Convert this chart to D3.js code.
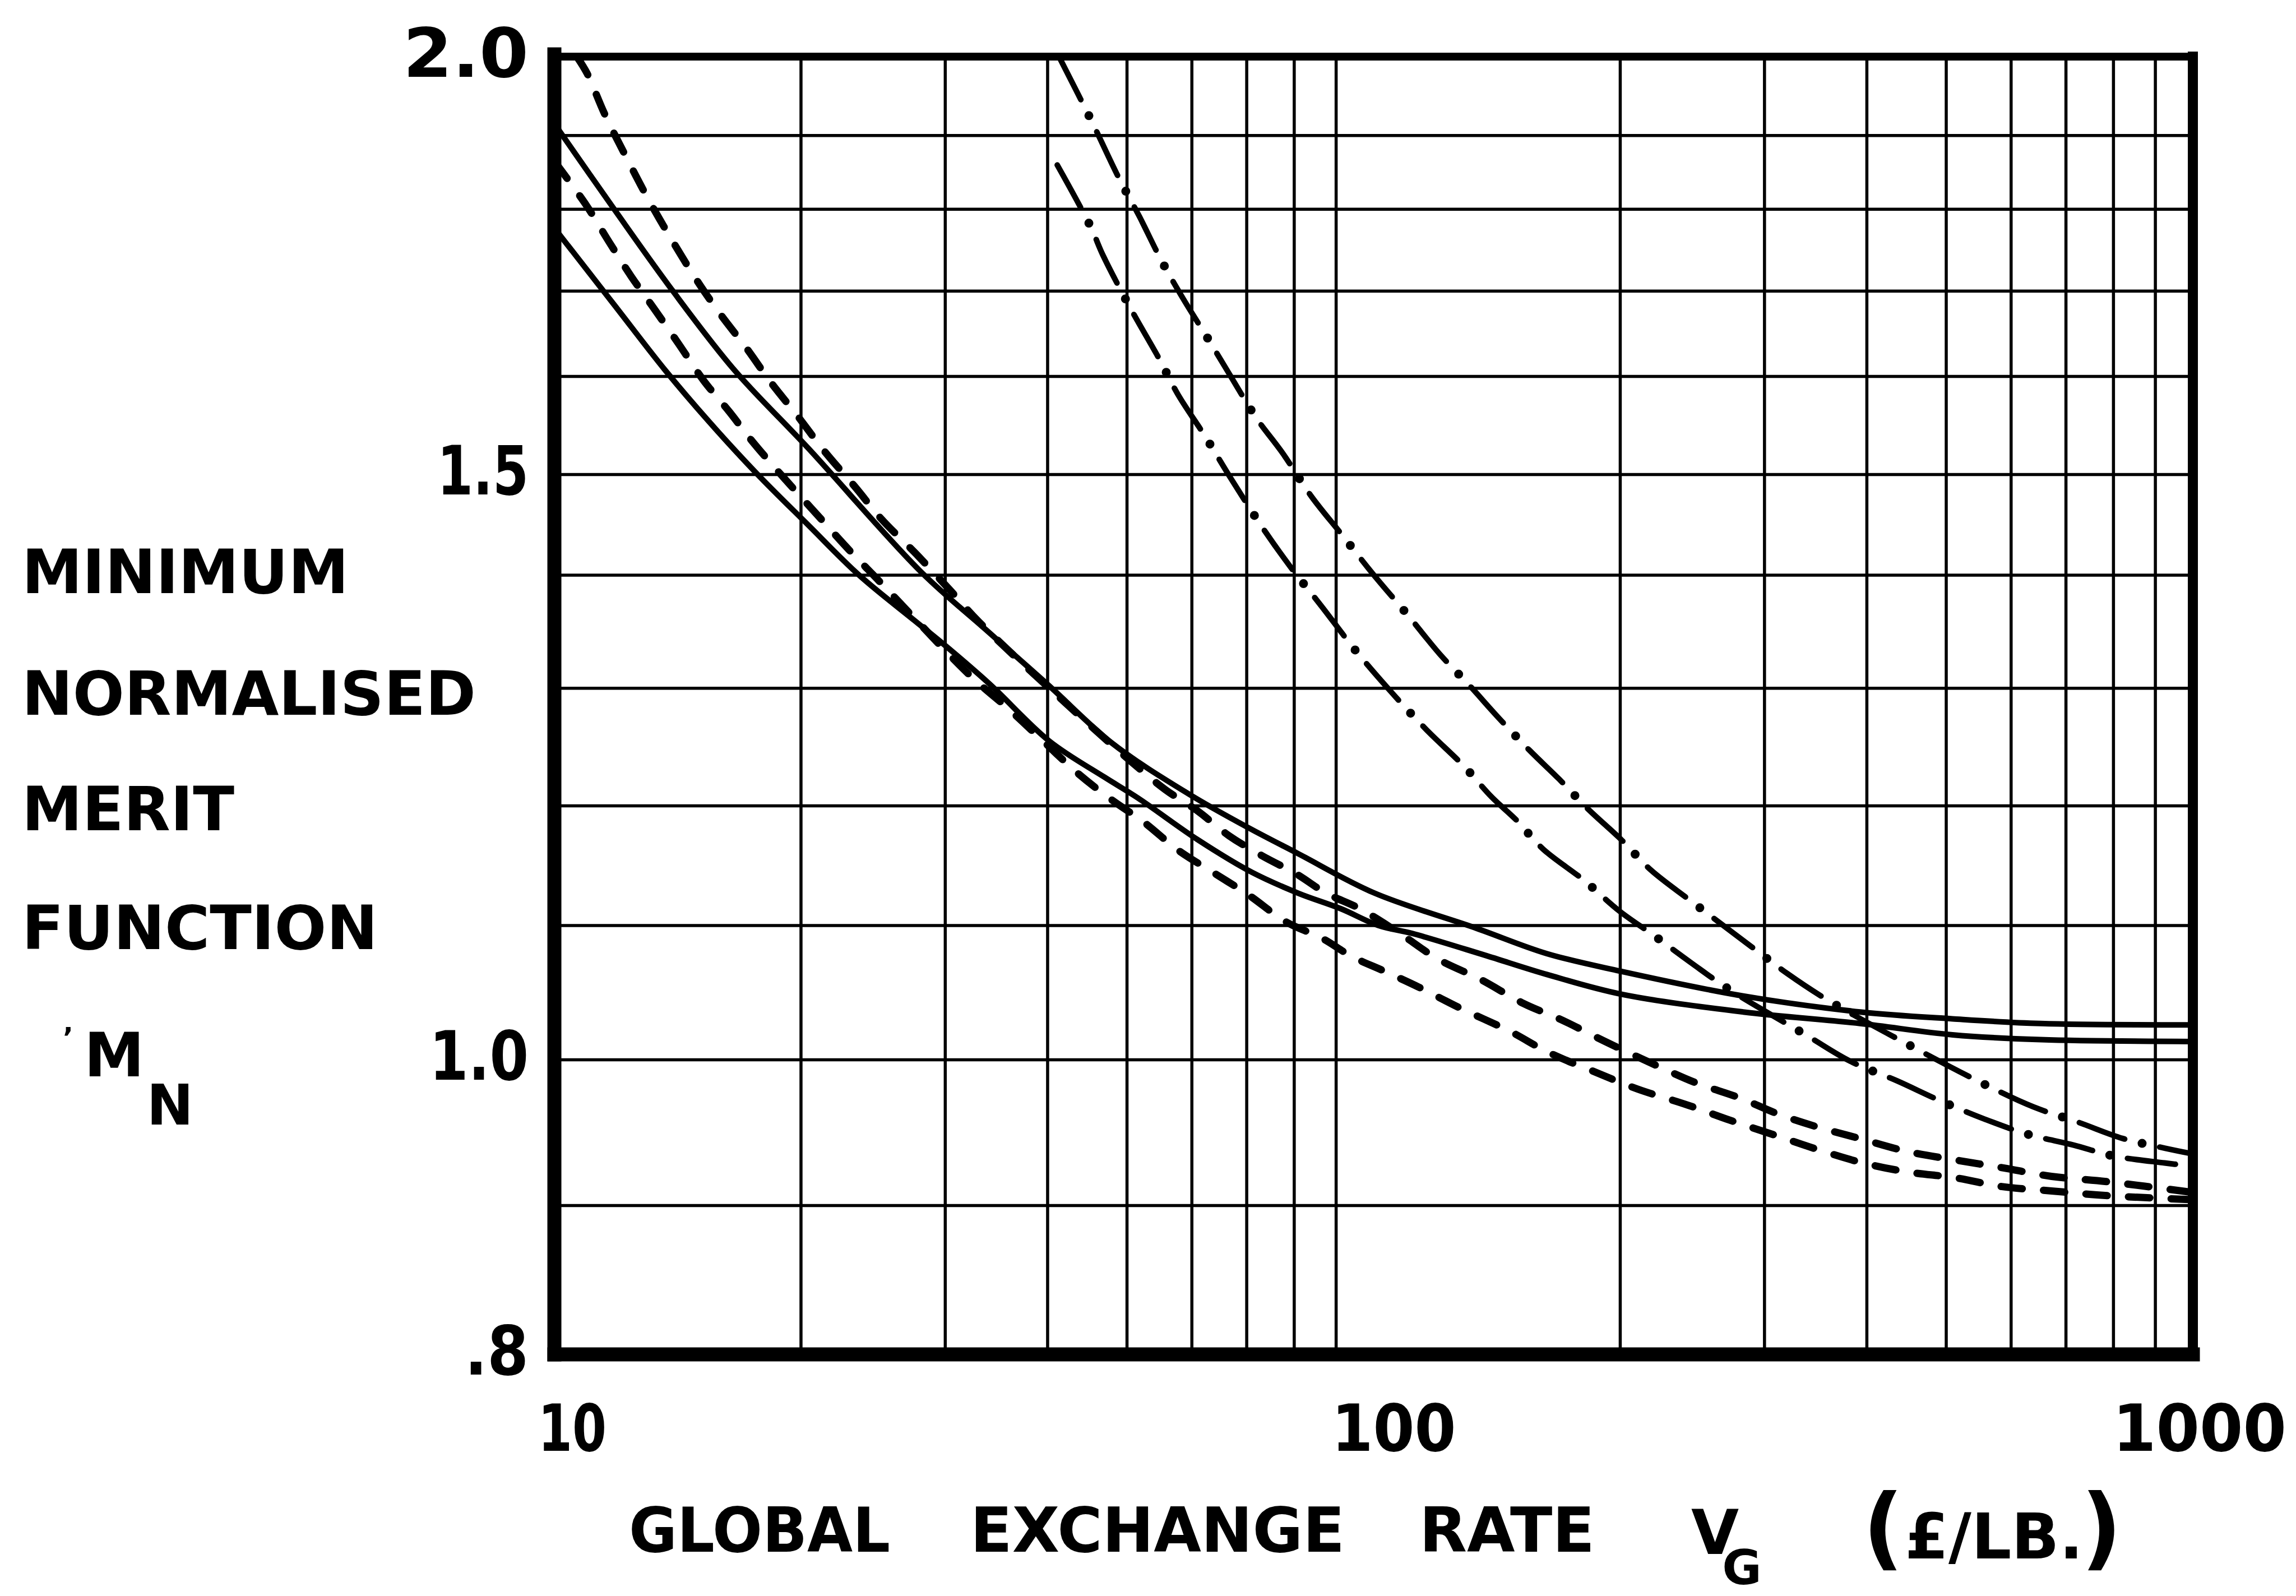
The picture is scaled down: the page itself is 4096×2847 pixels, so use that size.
<!DOCTYPE html>
<html>
<head>
<meta charset="utf-8">
<script src="https://cdn.jsdelivr.net/npm/d3@7"></script>
<style>
  html, body { margin: 0; padding: 0; background: #fff; }
  svg { display: block; }
</style>
</head>
<body>
<svg id="chart" width="4096" height="2847"></svg>
<script>
// ---- Axis values -------------------------------------------------------
const xTickValues = [10, 100, 1000];
const xTickLabels = ["10", "100", "1000"];
const xRulingValues = [20, 30, 40, 50, 60, 70, 80, 90, 200, 300, 400, 500, 600, 700, 800, 900];

const yTickValues = [2.0, 1.5, 1.0, 0.8];
const yTickLabels = ["2.0", "1.5", "1.0", ".8"];
const yRulingValues = [2.0, 1.9, 1.8, 1.7, 1.6, 1.5, 1.4, 1.3, 1.2, 1.1, 1.0, 0.9, 0.8];

const yTitleLines = ["MINIMUM", "NORMALISED", "MERIT", "FUNCTION"];

// ---- Curves: [global exchange rate V_G (£/lb), minimum normalised merit M_N]
const solidUpper = [
  [10, 1.915], [11.83, 1.80], [13.93, 1.701], [16.6, 1.607], [20.4, 1.527],
  [28.05, 1.403], [33.6, 1.352], [40.2, 1.302], [48, 1.253], [59.5, 1.21],
  [70.2, 1.182], [80.9, 1.16], [100.3, 1.127], [133.4, 1.098], [162.8, 1.079],
  [200, 1.066], [282.6, 1.0475], [392.5, 1.0356], [509, 1.0305], [652, 1.027],
  [1000, 1.026]
];
const solidLower = [
  [10, 1.777], [11.83, 1.684], [13.66, 1.607], [15.44, 1.554], [17.66, 1.501],
  [20.4, 1.45], [23.55, 1.40], [27.5, 1.36], [30.2, 1.336], [34, 1.3036],
  [40.2, 1.255], [46.9, 1.2245], [51.6, 1.2065], [60.9, 1.172], [71, 1.1445],
  [80.9, 1.127], [91.2, 1.114], [101.4, 1.10], [111.6, 1.094], [136.5, 1.078],
  [162.8, 1.0635], [200, 1.049], [282.6, 1.0356], [392.5, 1.027], [509, 1.0186],
  [652, 1.015], [1000, 1.0136]
];
const dashedUpper = [
  [10.65, 2.0], [10.96, 1.979], [11.52, 1.927], [12.22, 1.872], [13.03, 1.813],
  [13.96, 1.76], [14.95, 1.712], [15.97, 1.672], [17.16, 1.633], [18.37, 1.594],
  [19.75, 1.561], [21.35, 1.524], [23.32, 1.487], [25.06, 1.456], [27.65, 1.421],
  [30.3, 1.388], [33.0, 1.3585], [42.9, 1.282], [50.7, 1.237], [55.7, 1.2137],
  [60.9, 1.196], [66.6, 1.175], [73.2, 1.158], [80.5, 1.143], [87.5, 1.127],
  [96.2, 1.114], [107.7, 1.094], [119.8, 1.075], [134.9, 1.06], [152.3, 1.042],
  [169.5, 1.0298], [191.7, 1.0136], [219.8, 0.9969], [247.9, 0.984], [279.3, 0.974],
  [312.7, 0.9625], [348.5, 0.9538], [392, 0.946], [448.9, 0.937], [516.3, 0.931],
  [584.4, 0.926], [672.3, 0.92], [787.6, 0.9163], [1000, 0.909]
];
const dashedLower = [
  [10, 1.865], [10.93, 1.806], [11.68, 1.759], [12.41, 1.718], [13.2, 1.681],
  [14.16, 1.639], [15.22, 1.5955], [16.35, 1.564], [17.51, 1.532], [19.14, 1.495],
  [21.04, 1.458], [22.96, 1.424], [24.94, 1.3945], [27.34, 1.364], [32.2, 1.311],
  [35.9, 1.282], [39.5, 1.255], [43.65, 1.227], [47.7, 1.206], [52.5, 1.186],
  [57.7, 1.163], [63.8, 1.144], [70.3, 1.1257], [78.2, 1.103], [86.5, 1.0905],
  [94, 1.077], [103.3, 1.0657], [113.6, 1.054], [128, 1.038], [146.5, 1.0214],
  [163.5, 1.0055], [187.9, 0.9908], [209.8, 0.98], [241.5, 0.969], [272.4, 0.9585],
  [307.7, 0.9486], [348.1, 0.9385], [396, 0.9292], [448.9, 0.923], [513.3, 0.919],
  [584.4, 0.913], [672.3, 0.91], [786, 0.9068], [1000, 0.904]
];
const chainUpper = [
  [41.3, 2.0], [45.3, 1.9175], [48.9, 1.8418], [51.8, 1.7907], [55.1, 1.737],
  [58.6, 1.6905], [62.7, 1.645], [66.7, 1.6024], [72.0, 1.557], [77.4, 1.522],
  [84.0, 1.478], [91.3, 1.441], [100.1, 1.40], [110.3, 1.364], [120.5, 1.33],
  [131.1, 1.302], [141.8, 1.2755], [155.1, 1.247], [168.5, 1.2226], [182.9, 1.197],
  [200.4, 1.172], [218, 1.1463], [242.8, 1.1215], [266.4, 1.1007], [291.8, 1.0824],
  [319.5, 1.0644], [357.1, 1.045], [452.9, 1.0102], [564.6, 0.9815], [638.6, 0.9677],
  [725.7, 0.957], [821.2, 0.946], [923.7, 0.9394], [1000, 0.9354]
];
const chainLower = [
  [41.1, 1.86], [45.1, 1.7795], [46.74, 1.7437], [50.5, 1.6798], [54.8, 1.6197],
  [57.7, 1.5815], [62.3, 1.5387], [67.0, 1.4957], [73.0, 1.4485], [79.2, 1.408],
  [86.5, 1.372], [94.9, 1.334], [105.2, 1.2964], [116.0, 1.2647], [129.0, 1.2335],
  [139.3, 1.2076], [149.4, 1.188], [161.1, 1.1637], [180.6, 1.1378], [199.4, 1.1122],
  [219.9, 1.0925], [244.5, 1.0719], [272.4, 1.0519], [338.1, 1.018], [381.8, 0.999],
  [435.6, 0.9855], [489.7, 0.9723], [558.7, 0.959], [627.8, 0.949], [715, 0.9415],
  [800, 0.934], [923.7, 0.9292], [1000, 0.927]
];

// ---- Layout -------------------------------------------------------------
const L = 989, R = 3912, T = 101, B = 2416;
const INK = "#000";
const FONT = "'DejaVu Sans', 'Liberation Sans', sans-serif";

// The ordinate is ruled non-uniformly (close to logarithmic); the ruling
// fractions below place each 0.1 line down the plotting frame.
const yRulingFrac = [0, 0.0608, 0.1176, 0.1807, 0.2464, 0.3220, 0.3996,
                     0.4867, 0.5773, 0.6695, 0.7730, 0.8853, 1];

const x = d3.scaleLog().domain([10, 1000]).range([L, R]);
const y = d3.scaleLinear()
  .domain(yRulingValues)
  .range(yRulingFrac.map(f => T + f * (B - T)));

const svg = d3.select("#chart");
svg.append("rect").attr("width", 4096).attr("height", 2847).attr("fill", "#fff");

svg.append("clipPath").attr("id", "plot-clip")
  .append("rect").attr("x", L).attr("y", T).attr("width", R - L).attr("height", B - T);

// ---- Ruling -------------------------------------------------------------
const grid = svg.append("g").attr("stroke", INK).attr("stroke-width", 5.5);
grid.selectAll("line.v").data(xRulingValues).join("line")
  .attr("class", "v")
  .attr("x1", d => x(d)).attr("x2", d => x(d))
  .attr("y1", T).attr("y2", B);
grid.selectAll("line.h").data(yRulingValues.filter(v => v < 2.0 && v > 0.8)).join("line")
  .attr("class", "h")
  .attr("x1", L).attr("x2", R)
  .attr("y1", d => y(d)).attr("y2", d => y(d));

// ---- Curves -------------------------------------------------------------
const line = d3.line()
  .x(d => x(d[0]))
  .y(d => y(d[1]))
  .curve(d3.curveCatmullRom.alpha(0.5));

const curves = svg.append("g").attr("clip-path", "url(#plot-clip)")
  .attr("fill", "none").attr("stroke", INK).attr("stroke-linecap", "round")
  .attr("stroke-linejoin", "round");

[solidUpper, solidLower].forEach(s => {
  curves.append("path").attr("d", line(s)).attr("stroke-width", 10);
});

[dashedUpper, dashedLower].forEach(s => {
  curves.append("path").attr("d", line(s))
    .attr("stroke-width", 13)
    .attr("stroke-dasharray", "38,38");
});

// chain lines: long dash, dot, long dash ...
[chainUpper, chainLower].forEach(s => {
  curves.append("path").attr("d", line(s))
    .attr("stroke-width", 10)
    .attr("stroke-dasharray", "86,64");
  curves.append("path").attr("d", line(s))
    .attr("stroke-width", 16)
    .attr("stroke-dasharray", "0,150")
    .attr("stroke-dashoffset", 32);
});

// ---- Frame --------------------------------------------------------------
const frame = svg.append("g").attr("stroke", INK).attr("stroke-linecap", "square");
frame.append("line").attr("x1", L).attr("x2", R).attr("y1", T).attr("y2", T).attr("stroke-width", 14);
frame.append("line").attr("x1", R).attr("x2", R).attr("y1", T).attr("y2", B).attr("stroke-width", 18);
frame.append("line").attr("x1", L).attr("x2", R).attr("y1", B).attr("y2", B).attr("stroke-width", 25);
frame.append("line").attr("x1", L).attr("x2", L).attr("y1", T - 4).attr("y2", B).attr("stroke-width", 25);

// ---- Text helper ----------------------------------------------------------
function label(txt, px, py, size, width, anchor) {
  const t = svg.append("text")
    .attr("x", px).attr("y", py)
    .attr("font-family", FONT)
    .attr("font-weight", "bold")
    .attr("font-size", size)
    .attr("fill", INK)
    .attr("text-anchor", anchor || "start")
    .text(txt);
  if (width) t.attr("textLength", width).attr("lengthAdjust", "spacingAndGlyphs");
  return t;
}

// ---- Tick labels ------------------------------------------------------------
const yTickWidths = [224, 163, 177, 114];
yTickValues.forEach((v, i) => {
  label(yTickLabels[i], 943, y(v) + 36, 121, yTickWidths[i], "end");
});

const xTickWidths = [122, 222, 310];
const xTickShift = [32, 36, 12];
xTickValues.forEach((v, i) => {
  label(xTickLabels[i], x(v) + xTickShift[i], 2588, 116, xTickWidths[i], "middle");
});

// ---- Ordinate title ---------------------------------------------------------
const yTitleWidths = [583, 810, 379, 635];
const yTitleBase = [1058, 1275, 1481, 1693];
yTitleLines.forEach((s, i) => label(s, 39, yTitleBase[i], 108, yTitleWidths[i]));

label("\u2019", 112, 1868, 50);
const mn = label("M", 150, 1920, 108);
mn.append("tspan").attr("dx", 4).attr("dy", 86).attr("font-size", 100).text("N");

// ---- Abscissa title ---------------------------------------------------------
label("GLOBAL", 1122, 2768, 110, 466);
label("EXCHANGE", 1731, 2768, 110, 668);
label("RATE", 2532, 2768, 110, 313);

const vg = label("V", 3017, 2772, 110);
vg.append("tspan").attr("dx", -30).attr("dy", 54).attr("font-size", 86).text("G");

const unit = svg.append("text")
  .attr("x", 3323).attr("y", 2780)
  .attr("font-family", FONT).attr("font-weight", "bold").attr("fill", INK);
unit.append("tspan").attr("font-size", 160).text("(");
unit.append("tspan").attr("font-size", 112).attr("dx", 2).text("£/LB.");
unit.append("tspan").attr("font-size", 160).attr("dx", -4).text(")");
</script>
</body>
</html>
